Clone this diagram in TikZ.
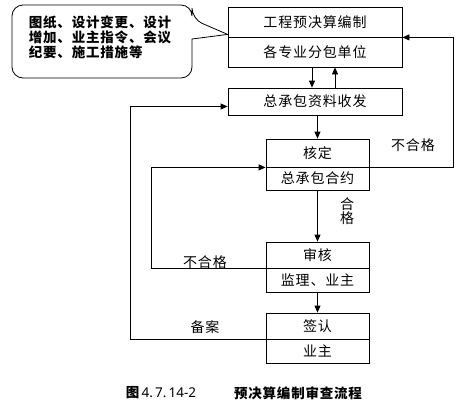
\documentclass[tikz,border=0pt]{standalone}
\usepackage{fontspec}
\usepackage{tikz}
\usetikzlibrary{arrows.meta,positioning}
\newfontfamily\cjkfont[LetterSpace=6]{Noto Sans CJK SC}

\begin{document}
\begin{tikzpicture}[x=1pt,y=-1pt,font=\cjkfont\fontsize{14pt}{15pt}\selectfont,
wide/.style={draw,line width=.8pt,minimum width=174pt,inner sep=0pt},
narrow/.style={draw,line width=.8pt,minimum width=103pt,inner sep=0pt},
arr/.style={-{Triangle[length=7pt,width=6pt]},line width=.8pt},
lbl/.style={font=\cjkfont\fontsize{14pt}{14pt}\selectfont},
bold/.style={font=\cjkfont\bfseries\fontsize{13.5pt}{15pt}\selectfont}]

\useasboundingbox (0,0) rectangle (469,408);
\node[wide,minimum height=30pt] (bz) at (315,22) {工程预决算编制};
\node[wide,minimum height=30pt] (fb) at (315,52) {各专业分包单位};
\node[wide,minimum height=27pt] (sf) at (315,101.5) {总承包资料收发};
\node[narrow,minimum height=28pt] (hd) at (317.5,153) {核定};
\node[narrow,minimum height=23pt] (hy) at (317.5,178.5) {总承包合约};
\node[narrow,minimum height=26pt] (sh) at (317.5,255) {审核};
\node[narrow,minimum height=24pt] (jl) at (317.5,280) {监理、业主};
\node[narrow,minimum height=26pt] (qr) at (317.5,326) {签认};
\node[narrow,minimum height=24pt] (yz) at (317.5,351) {业主};

\draw[line width=.8pt,rounded corners=11pt] (100,78) -- (12,78) -- (12,5) -- (192,5) -- (192,19)
  [sharp corners] -- ([yshift=3pt]bz.south west) -- (192,39) [rounded corners=11pt] -- (192,78) -- (100,78);
\node[bold,align=left] (note) at (100,37) {图纸、设计变更、设计\\增加、业主指令、会议\\纪要、施工措施等};

\draw[arr] ([xshift=-3pt]fb.south) -- ([xshift=-3pt]sf.north);
\draw[arr] ([xshift=20pt]sf.north) -- ([xshift=20pt]fb.south);
\draw[arr] (sf.south -| hd.north) -- (hd.north);
\draw[arr] (hy.south) -- (sh.north);
\draw[arr] (jl.south) -- (qr.north);
\draw[arr] (hd.south east) -- ++(84,0) |- (bz.south east);
\draw[arr] (sh.south east) -- ++(-218,0) |- (hd.south west);
\draw[arr] (qr.south east) -- ++(-239,0) |- ([yshift=-5pt]sf.west);

\node[lbl] (bh1) at (413,145) {不合格};
\node[lbl,align=center] (hg) at (347,211) {合\\格};
\node[lbl] (bh2) at (205,262) {不合格};
\node[lbl] (ba) at (205,327) {备案};

\node[bold] (fig) at (161,393) {图\,{\fontspec{Noto Sans}\mdseries 4.\,7.\,14-2}};
\node[bold] (title) at (298,393) {预决算编制审查流程};
\end{tikzpicture}
\end{document}
